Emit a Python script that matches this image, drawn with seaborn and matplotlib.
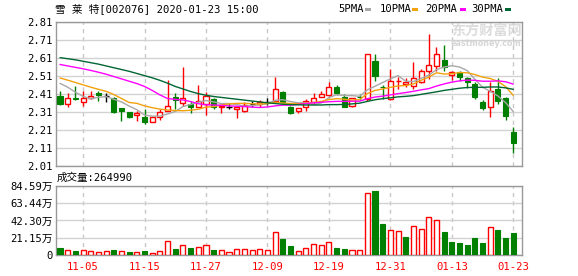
import numpy as np
import pandas as pd
import matplotlib
matplotlib.use("Agg")
import matplotlib.pyplot as plt
import seaborn as sns
from matplotlib.patches import Rectangle

# ---------------- data ----------------
dates = ['10-31', '11-01', '11-04', '11-05', '11-06', '11-07', '11-08', '11-11', '11-12', '11-13',
         '11-14', '11-15', '11-18', '11-19', '11-20', '11-21', '11-22', '11-25', '11-26', '11-27',
         '11-28', '11-29', '12-02', '12-03', '12-04', '12-05', '12-06', '12-09', '12-10', '12-11',
         '12-12', '12-13', '12-16', '12-17', '12-18', '12-19', '12-20', '12-23', '12-24', '12-25',
         '12-26', '12-27', '12-30', '12-31', '01-02', '01-03', '01-06', '01-07', '01-08', '01-09',
         '01-10', '01-13', '01-14', '01-15', '01-16', '01-17', '01-20', '01-21', '01-22', '01-23']

opens = [2.401, 2.354, 2.389, 2.366, 2.388, 2.416, 2.401, 2.388, 2.332, 2.312,
         2.293, 2.284, 2.254, 2.284, 2.318, 2.391, 2.362, 2.354, 2.340, 2.354,
         2.384, 2.336, 2.340, 2.327, 2.314, 2.354, 2.354, 2.367, 2.373, 2.421,
         2.336, 2.317, 2.340, 2.364, 2.395, 2.406, 2.451, 2.395, 2.345, 2.394,
         2.382, 2.591, 2.449, 2.382, 2.482, 2.466, 2.456, 2.475, 2.536, 2.567,
         2.599, 2.517, 2.530, 2.499, 2.466, 2.364, 2.340, 2.438, 2.388, 2.201]
highs = [2.425, 2.414, 2.452, 2.425, 2.425, 2.429, 2.416, 2.395, 2.332, 2.312,
         2.314, 2.325, 2.280, 2.327, 2.488, 2.414, 2.562, 2.373, 2.462, 2.419,
         2.390, 2.343, 2.358, 2.345, 2.364, 2.369, 2.377, 2.388, 2.503, 2.429,
         2.345, 2.332, 2.382, 2.414, 2.425, 2.475, 2.462, 2.410, 2.388, 2.410,
         2.632, 2.632, 2.462, 2.549, 2.503, 2.499, 2.586, 2.549, 2.743, 2.669,
         2.684, 2.540, 2.540, 2.506, 2.475, 2.377, 2.475, 2.499, 2.395, 2.225]
lows = [2.351, 2.336, 2.379, 2.341, 2.382, 2.373, 2.364, 2.303, 2.262, 2.277,
        2.262, 2.243, 2.252, 2.266, 2.315, 2.327, 2.345, 2.303, 2.336, 2.295,
        2.325, 2.303, 2.327, 2.277, 2.310, 2.336, 2.336, 2.351, 2.364, 2.358,
        2.299, 2.303, 2.314, 2.354, 2.391, 2.401, 2.406, 2.336, 2.340, 2.377,
        2.373, 2.484, 2.382, 2.377, 2.438, 2.447, 2.438, 2.469, 2.493, 2.540,
        2.536, 2.488, 2.484, 2.443, 2.382, 2.321, 2.284, 2.354, 2.266, 2.080]
closes = [2.356, 2.388, 2.383, 2.388, 2.399, 2.404, 2.401, 2.312, 2.314, 2.284,
          2.304, 2.253, 2.280, 2.312, 2.345, 2.377, 2.388, 2.340, 2.369, 2.397,
          2.338, 2.343, 2.340, 2.340, 2.351, 2.354, 2.367, 2.367, 2.438, 2.364,
          2.303, 2.332, 2.369, 2.388, 2.410, 2.451, 2.414, 2.340, 2.388, 2.393,
          2.632, 2.512, 2.447, 2.484, 2.484, 2.479, 2.499, 2.540, 2.573, 2.632,
          2.558, 2.534, 2.503, 2.475, 2.391, 2.332, 2.425, 2.373, 2.290, 2.138]

ma5 = [2.469, 2.448, 2.420, 2.397, 2.383, 2.392, 2.395, 2.381, 2.366, 2.343,
       2.323, 2.293, 2.287, 2.287, 2.299, 2.313, 2.340, 2.352, 2.364, 2.374,
       2.366, 2.357, 2.357, 2.352, 2.342, 2.346, 2.350, 2.356, 2.375, 2.378,
       2.368, 2.361, 2.361, 2.351, 2.360, 2.390, 2.406, 2.401, 2.401, 2.397,
       2.433, 2.453, 2.474, 2.494, 2.512, 2.481, 2.479, 2.497, 2.515, 2.545,
       2.560, 2.567, 2.560, 2.540, 2.492, 2.447, 2.425, 2.399, 2.362, 2.312]
ma10 = [2.499, 2.487, 2.474, 2.461, 2.448, 2.436, 2.425, 2.407, 2.385, 2.363,
        2.358, 2.344, 2.334, 2.326, 2.321, 2.318, 2.317, 2.320, 2.325, 2.337,
        2.340, 2.349, 2.355, 2.358, 2.358, 2.356, 2.354, 2.357, 2.364, 2.360,
        2.357, 2.356, 2.359, 2.363, 2.369, 2.379, 2.384, 2.381, 2.376, 2.379,
        2.412, 2.430, 2.438, 2.447, 2.455, 2.457, 2.466, 2.486, 2.504, 2.528,
        2.521, 2.523, 2.529, 2.528, 2.518, 2.504, 2.496, 2.480, 2.451, 2.402]
ma20 = [2.574, 2.566, 2.558, 2.550, 2.541, 2.531, 2.520, 2.507, 2.494, 2.481,
        2.468, 2.452, 2.430, 2.405, 2.385, 2.380, 2.377, 2.368, 2.356, 2.350,
        2.349, 2.347, 2.344, 2.342, 2.340, 2.337, 2.335, 2.338, 2.344, 2.348,
        2.348, 2.352, 2.357, 2.361, 2.364, 2.367, 2.369, 2.369, 2.370, 2.370,
        2.384, 2.393, 2.398, 2.405, 2.412, 2.418, 2.425, 2.433, 2.440, 2.454,
        2.466, 2.476, 2.483, 2.487, 2.486, 2.481, 2.481, 2.483, 2.478, 2.465]
ma30 = [2.612, 2.606, 2.600, 2.592, 2.584, 2.576, 2.566, 2.556, 2.546, 2.536,
        2.524, 2.512, 2.500, 2.486, 2.470, 2.452, 2.438, 2.424, 2.412, 2.403,
        2.396, 2.391, 2.386, 2.381, 2.376, 2.371, 2.366, 2.361, 2.357, 2.353,
        2.351, 2.350, 2.349, 2.349, 2.349, 2.351, 2.351, 2.352, 2.355, 2.359,
        2.369, 2.378, 2.384, 2.389, 2.394, 2.397, 2.401, 2.408, 2.415, 2.422,
        2.430, 2.436, 2.442, 2.446, 2.447, 2.447, 2.449, 2.449, 2.444, 2.436]

# volume in 万 (10k shares); 1 = red (up) bar, 0 = green bar
volume = [8.5, 5.7, 4.9, 5.7, 4.5, 3.3, 4.5, 6.1, 4.5, 3.7,
          3.3, 4.9, 2.4, 4.5, 16.7, 7.3, 11.8, 8.5, 9.4, 11.8,
          6.1, 5.7, 3.3, 6.9, 6.9, 5.7, 6.9, 5.7, 27.7, 19.5,
          11.0, 4.5, 8.1, 13.0, 11.8, 15.5, 8.5, 7.3, 5.7, 5.7,
          76.5, 78.1, 37.8, 30.5, 28.9, 22.4, 35.0, 31.7, 46.0, 42.7,
          27.7, 15.9, 14.6, 12.2, 20.7, 14.6, 33.8, 30.5, 20.7, 26.5]
volume_up = [0, 1, 0, 1, 1, 1, 1, 0, 1, 0,
             1, 0, 1, 1, 1, 0, 1, 0, 1, 1,
             0, 1, 1, 1, 1, 1, 1, 1, 1, 0,
             0, 1, 1, 1, 1, 1, 0, 0, 1, 1,
             1, 0, 0, 1, 1, 0, 1, 1, 1, 1,
             0, 0, 0, 0, 0, 0, 1, 0, 0, 0]

price_ticks = [2.01, 2.11, 2.21, 2.31, 2.41, 2.51, 2.61, 2.71, 2.81]
vol_ticks = [0, 21.15, 42.30, 63.44, 84.59]
vol_tick_labels = ['0', '21.15万', '42.30万', '63.44万', '84.59万']
date_ticks = ['11-05', '11-15', '11-27', '12-09', '12-19', '12-31', '01-13', '01-23']
title_text = '雪 莱 特[002076] 2020-01-23 15:00'
vol_title = '成交量:264990'
legend_labels = ['5PMA', '10PMA', '20PMA', '30PMA']

# ---------------- style ----------------
RED = '#ff0000'
GREEN = '#008000'
MA_COLORS = ['#a8a8a8', '#f2a20c', '#ff00ff', '#006633']
GRID = '#d2d2d2'
BORDER = '#999999'

sns.set_style("white")
plt.rcParams['font.family'] = ['DejaVu Sans Mono', 'Noto Sans CJK SC']
plt.rcParams['font.size'] = 7.6

W, H = 578, 276
fig = plt.figure(figsize=(W / 100, H / 100), dpi=100)


def rect(l, t, r, b):
    return [l / W, 1 - b / H, (r - l) / W, (b - t) / H]


ax = fig.add_axes(rect(56, 22, 522, 166))
axv = fig.add_axes(rect(56, 186, 522, 255))

x = np.arange(len(dates))
tick_pos = [dates.index(d) for d in date_ticks]
BW = 0.66

# ---------------- candles ----------------
o = np.array(opens); c = np.array(closes); h = np.array(highs); l = np.array(lows)
for i in x:
    if c[i] > o[i]:
        col = RED
        ax.vlines(i, l[i], h[i], color=col, lw=1, zorder=2)
        ax.bar(i, c[i] - o[i], bottom=o[i], width=BW, facecolor='white',
               edgecolor=col, lw=1, zorder=3)
    elif c[i] < o[i]:
        col = GREEN
        ax.vlines(i, l[i], h[i], color=col, lw=1, zorder=2)
        ax.bar(i, o[i] - c[i], bottom=c[i], width=BW, facecolor=col,
               edgecolor=col, lw=0.8, zorder=3)
    else:
        col = 'black'
        ax.vlines(i, l[i], h[i], color=col, lw=1, zorder=2)
        ax.hlines(o[i], i - BW / 2, i + BW / 2, color=col, lw=1, zorder=3)

# ---------------- moving averages (seaborn) ----------------
ma_df = pd.DataFrame({'idx': np.tile(x, 4),
                      'value': np.concatenate([ma5, ma10, ma20, ma30]),
                      'ma': np.repeat(legend_labels, len(x))})
sns.lineplot(data=ma_df, x='idx', y='value', hue='ma', palette=MA_COLORS,
             hue_order=legend_labels, ax=ax, legend=False, lw=1, zorder=4,
             estimator=None)

ax.set_xlim(-0.52, 60.13)
ax.set_ylim(2.01, 2.81)
ax.set_yticks(price_ticks)
ax.set_yticklabels([f'{t:.2f}' for t in price_ticks])
ax.set_xticks(tick_pos)
ax.set_xticklabels([])
ax.set_xlabel('')
ax.set_ylabel('')
ax.grid(axis='y', color=GRID, lw=1, ls='-', zorder=0)
ax.grid(axis='x', color='#c8c8c8', lw=1, ls=(0, (3, 3)), zorder=0)
ax.set_axisbelow(True)

# watermark
ax.text(451 / W, 1 - 31 / H, '东方财富网', transform=fig.transFigure,
        fontsize=10.2, color='#dcdcdc', fontweight='bold',
        family=['Noto Sans CJK SC'], ha='left', va='center', zorder=0.5)
ax.text(451 / W, 1 - 43 / H, 'eastmoney.com', transform=fig.transFigure,
        fontsize=5.8, color='#d6d6d6', fontweight='bold',
        family=['DejaVu Sans'], ha='left', va='center', zorder=0.5)

# ---------------- volume ----------------
vol = np.array(volume)
up = np.array(volume_up).astype(bool)
axv.bar(x[up], vol[up], width=BW, facecolor='white', edgecolor=RED, lw=1, zorder=3)
axv.bar(x[~up], vol[~up], width=BW, facecolor=GREEN, edgecolor=GREEN, lw=0.8, zorder=3)
axv.set_xlim(-0.52, 60.13)
axv.set_ylim(0, 84.59)
axv.set_yticks(vol_ticks)
axv.set_yticklabels(vol_tick_labels)
axv.set_xticks(tick_pos)
axv.set_xticklabels(date_ticks, color=RED)
axv.grid(axis='y', color=GRID, lw=1, ls='-', zorder=0)
axv.grid(axis='x', color='#c8c8c8', lw=1, ls=(0, (3, 3)), zorder=0)
axv.set_axisbelow(True)

for a in (ax, axv):
    for s in a.spines.values():
        s.set_color(BORDER)
        s.set_linewidth(1)
        s.set_visible(True)
    a.tick_params(axis='both', length=0, labelsize=7.6, colors='black')
    a.tick_params(axis='y', pad=2.5)
axv.tick_params(axis='x', pad=5.0, labelcolor=RED)

# ---------------- texts ----------------
fig.text(55 / W, 1 - 8.5 / H, title_text, ha='left', va='center', fontsize=7.6, color='black')
fig.text(57 / W, 1 - 177.5 / H, vol_title, ha='left', va='center', fontsize=7.6, color='black')

leg_x = [338, 380, 425.5, 471.5]
mark_x = [365, 411.5, 460, 505]
for lab, lx, mx, col in zip(legend_labels, leg_x, mark_x, MA_COLORS):
    fig.text(lx / W, 1 - 8.5 / H, lab, ha='left', va='center', fontsize=7.6, color='black')
    fig.patches.append(Rectangle((mx / W, 1 - 11 / H), 6 / W, 2.5 / H,
                                 transform=fig.transFigure, facecolor=col,
                                 edgecolor='none'))

fig.savefig('out.png', dpi=100)
